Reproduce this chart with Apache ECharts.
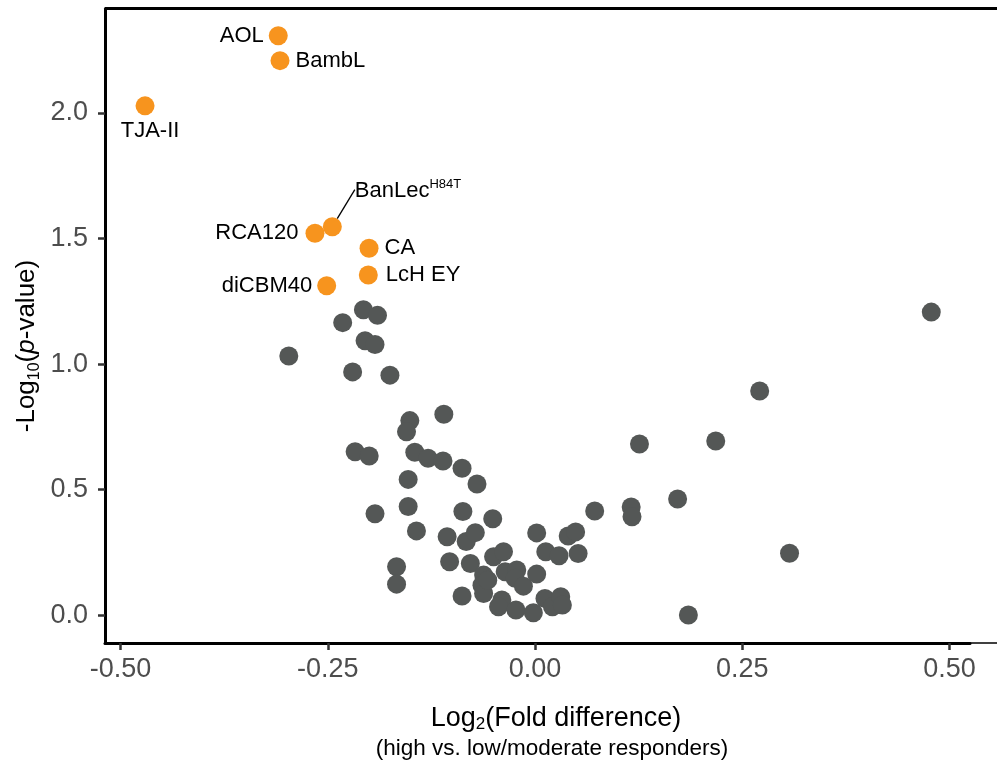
<!DOCTYPE html>
<html>
<head>
<meta charset="utf-8">
<script src="https://cdn.jsdelivr.net/npm/echarts@6/dist/echarts.min.js"></script>
<style>html,body{margin:0;padding:0;background:#fff;}#c{width:997px;height:767px;}</style>
</head>
<body>
<div id="c"></div>
<script>
// Highlighted lectins: names, log2 fold difference, -log10 p
const hiNames = ['AOL', 'BambL', 'TJA-II', 'BanLec', 'RCA120', 'CA', 'LcH EY', 'diCBM40'];
const hiX = [-0.3097, -0.3076, -0.4704, -0.2445, -0.2654, -0.2002, -0.2011, -0.2513];
const hiY = [2.307, 2.208, 2.028, 1.547, 1.521, 1.461, 1.355, 1.312];

// Other lectins
const otherX = [-0.297, -0.232, -0.207, -0.190, -0.205, -0.193, -0.220, -0.175, 0.478, 0.271,
  0.218, 0.126, 0.172, 0.116, 0.117, 0.072, 0.307, 0.185, -0.110, -0.151,
  -0.155, -0.217, -0.200, -0.145, -0.129, -0.111, -0.088, -0.070, -0.153, -0.153,
  -0.193, -0.143, -0.087, -0.106, -0.083, -0.072, -0.103, -0.078, -0.167, -0.167,
  -0.088, -0.051, -0.050, -0.038, -0.062, -0.064, -0.062, -0.036, -0.022, -0.024,
  -0.014, -0.040, -0.044, -0.023, -0.002, 0.002, 0.002, 0.013, 0.029, 0.040,
  0.049, 0.052, 0.012, 0.021, 0.031, 0.033, -0.057];
const otherY = [1.032, 1.165, 1.216, 1.194, 1.093, 1.078, 0.969, 0.956, 1.207, 0.893,
  0.694, 0.682, 0.463, 0.431, 0.392, 0.415, 0.247, 0.001, 0.800, 0.775,
  0.731, 0.651, 0.634, 0.649, 0.625, 0.614, 0.585, 0.523, 0.541, 0.433,
  0.404, 0.336, 0.413, 0.313, 0.294, 0.329, 0.213, 0.206, 0.193, 0.124,
  0.077, 0.384, 0.233, 0.253, 0.160, 0.120, 0.087, 0.173, 0.180, 0.147,
  0.116, 0.061, 0.034, 0.021, 0.010, 0.164, 0.328, 0.253, 0.237, 0.316,
  0.332, 0.246, 0.067, 0.034, 0.074, 0.041, 0.140];

const xTicks = [-0.5, -0.25, 0, 0.25, 0.5];
const yTicks = [0, 0.5, 1.0, 1.5, 2.0];

const labelCfg = {
  'AOL': {position: 'left', distance: 5},
  'BambL': {position: 'right', distance: 6},
  'TJA-II': {position: 'bottom', distance: 3},
  'BanLec': {position: 'right', distance: 6},
  'RCA120': {position: 'left', distance: 7},
  'CA': {position: 'right', distance: 6},
  'LcH EY': {position: 'right', distance: 8},
  'diCBM40': {position: 'left', distance: 5}
};

const hiData = hiNames.map((n, i) => {
  const c = labelCfg[n];
  const item = {
    name: n,
    value: [hiX[i], hiY[i]],
    label: Object.assign({show: true}, c)
  };
  if (n === 'BanLec') {
    item.label.formatter = '{a|BanLec}{s|H84T}';
    item.labelLine = {show: true, lineStyle: {color: '#000', width: 1.3}};
  } else {
    item.label.formatter = '{a|' + n + '}';
  }
  return item;
});

const otherData = otherX.map((x, i) => [x, otherY[i]]);

const FONT = '"Liberation Sans", Arial, Helvetica, sans-serif';

const chart = echarts.init(document.getElementById('c'), null, {renderer: 'canvas'});
chart.setOption({
  animation: false,
  backgroundColor: '#fff',
  grid: {left: 105, top: 8.5, right: 27, bottom: 124, containLabel: false},
  xAxis: {
    type: 'value',
    min: -0.5187, max: 0.5247,
    splitLine: {show: false},
    axisLine: {show: true, onZero: false, lineStyle: {color: '#000', width: 3}},
    axisTick: {show: true, length: 7, customValues: xTicks, lineStyle: {color: '#333', width: 2.5}},
    axisLabel: {customValues: xTicks, margin: 13, fontSize: 27, color: '#4d4d4d', fontFamily: FONT,
      formatter: v => v.toFixed(2)}
  },
  yAxis: {
    type: 'value',
    min: -0.1103, max: 2.4156,
    splitLine: {show: false},
    axisLine: {show: true, onZero: false, lineStyle: {color: '#000', width: 3}},
    axisTick: {show: true, length: 7, customValues: yTicks, lineStyle: {color: '#333', width: 2.5}},
    axisLabel: {customValues: yTicks, margin: 17, fontSize: 27, color: '#4d4d4d', fontFamily: FONT,
      formatter: v => v.toFixed(1)}
  },
  series: [
    {
      type: 'scatter',
      symbolSize: 19,
      itemStyle: {color: '#545756', opacity: 1},
      data: otherData,
      z: 2
    },
    {
      type: 'scatter',
      symbolSize: 19,
      itemStyle: {color: '#f7941e', opacity: 1},
      label: {
        color: '#000', fontFamily: FONT, fontSize: 22,
        rich: {
          a: {fontSize: 22, fontFamily: FONT, color: '#000', lineHeight: 26},
          s: {fontSize: 13, fontFamily: FONT, color: '#000', verticalAlign: 'top', lineHeight: 14}
        }
      },
      labelLayout: function (params) {
        if (params.dataIndex === 3) {
          return {dx: 7, dy: -36};
        }
        if (params.dataIndex === 2) {
          return {dx: 5, dy: 0};
        }
        return {};
      },
      data: hiData,
      z: 3
    }
  ],
  graphic: [
    {type: 'line', shape: {x1: 105, y1: 8.5, x2: 997, y2: 8.5}, style: {stroke: '#000', lineWidth: 3}, z: 10},
    {type: 'line', shape: {x1: 970, y1: 643, x2: 997, y2: 643}, style: {stroke: '#000', lineWidth: 1.5}, z: 10},
    {
      type: 'text', x: 27, y: 346, rotation: Math.PI / 2,
      style: {
        text: '-Log{sub|10}({it|p}-value)',
        font: '26px ' + FONT, fill: '#000', align: 'center', verticalAlign: 'middle',
        rich: {
          sub: {fontSize: 16, fontFamily: FONT, verticalAlign: 'bottom', lineHeight: 16},
          it: {fontSize: 26, fontFamily: FONT, fontStyle: 'italic', lineHeight: 32}
        }
      }
    },
    {
      type: 'text', x: 556, y: 719,
      style: {
        text: 'Log{sub|2}(Fold difference)',
        font: '27px ' + FONT, fill: '#000', align: 'center', verticalAlign: 'middle',
        rich: {
          sub: {fontSize: 17, fontFamily: FONT, verticalAlign: 'bottom', lineHeight: 16}
        }
      }
    },
    {
      type: 'text', x: 552, y: 749,
      style: {
        text: '(high vs. low/moderate responders)',
        font: '22.5px ' + FONT, fill: '#000', align: 'center', verticalAlign: 'middle'
      }
    }
  ]
});
</script>
</body>
</html>
